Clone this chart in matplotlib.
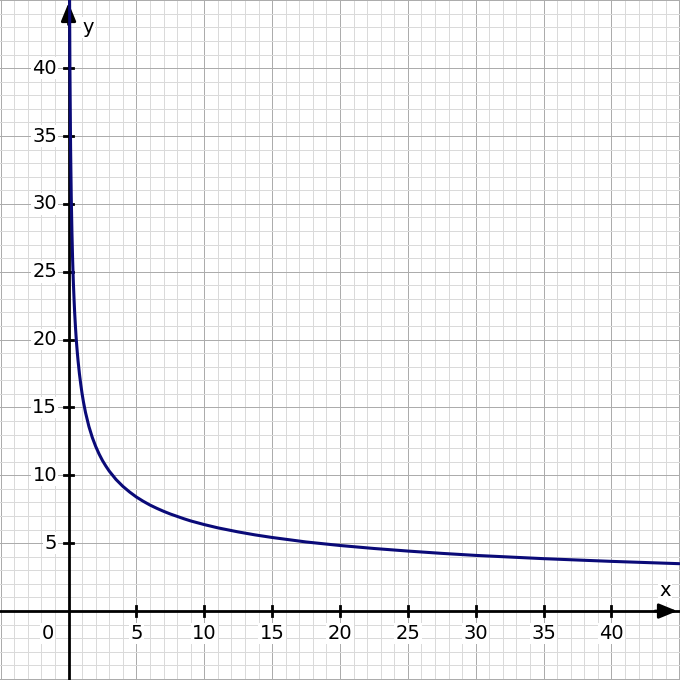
import numpy as np
import matplotlib

matplotlib.use("Agg")
import matplotlib.pyplot as plt
from matplotlib.ticker import MultipleLocator

# Puntos
x_curve = [0.07, 0.1, 0.15, 0.2, 0.25, 0.3, 0.35, 0.4, 0.45, 0.5, 0.55, 0.6,
           0.65, 0.7, 0.8, 0.9, 1.0, 1.1, 1.25, 1.5, 1.75, 2.0, 2.25, 2.5,
           2.75, 3.0, 3.5, 4.0, 4.5, 5.0, 5.5, 6.0, 6.5, 7.0, 7.5, 8.5, 9.0,
           10, 11, 12.5, 13.75, 15, 17.5, 20, 22.5, 25, 27.5, 30, 35, 40, 45]
y_curve = [46.4, 40.2, 34.2, 30.5, 27.9, 25.9, 24.35, 23.1, 22.0, 21.1, 20.3,
           19.6, 19.0, 18.45, 17.5, 16.7, 16.0, 15.4, 14.63, 13.6, 12.79,
           12.13, 11.57, 11.09, 10.68, 10.31, 9.69, 9.19, 8.77, 8.40, 8.09,
           7.81, 7.57, 7.35, 7.15, 6.80, 6.64, 6.37, 6.13, 5.83, 5.61, 5.42,
           5.09, 4.83, 4.61, 4.42, 4.25, 4.10, 3.86, 3.66, 3.49]

tick_vals = [5, 10, 15, 20, 25, 30, 35, 40]

fig = plt.figure(figsize=(6.8, 6.8), dpi=100)
ax = fig.add_axes([0, 0, 1, 1])
ax.set_xlim(-5.05, 45.05)
ax.set_ylim(-5.08, 45.02)

# cuadrícula tipo papel milimetrado
ax.xaxis.set_major_locator(MultipleLocator(5))
ax.yaxis.set_major_locator(MultipleLocator(5))
ax.xaxis.set_minor_locator(MultipleLocator(1))
ax.yaxis.set_minor_locator(MultipleLocator(1))
ax.grid(which="minor", color="#dadada", lw=0.72)
ax.grid(which="major", color="#acacac", lw=0.72)
ax.tick_params(which="both", length=0, labelbottom=False, labelleft=False)
for s in ax.spines.values():
    s.set_visible(False)

# ejes
ax.axhline(0, color="black", lw=2, zorder=3)
ax.axvline(0, color="black", lw=2, zorder=3)
ax.annotate("", xy=(45.05, 0), xytext=(43.0, 0),
            arrowprops=dict(arrowstyle="-|>,head_length=1.1,head_width=0.45",
                            color="black", lw=2), zorder=4)
ax.annotate("", xy=(0, 45.02), xytext=(0, 43.0),
            arrowprops=dict(arrowstyle="-|>,head_length=1.1,head_width=0.45",
                            color="black", lw=2), zorder=4)

box = dict(facecolor="white", edgecolor="none", pad=1.0)
fs = 14
for v in tick_vals:
    ax.plot([v, v], [-0.35, 0.35], color="black", lw=2, zorder=3)
    ax.plot([-0.35, 0.35], [v, v], color="black", lw=2, zorder=3)
    ax.text(v, -1.65, str(v), ha="center", va="center", fontsize=fs, bbox=box)
    ax.text(-0.85, v, str(v), ha="right", va="center", fontsize=fs, bbox=box)
ax.text(-1.1, -1.65, "0", ha="right", va="center", fontsize=fs, bbox=box)
ax.text(43.95, 1.5, "x", ha="center", va="center", fontsize=fs, bbox=box)
ax.text(1.45, 43.0, "y", ha="center", va="center", fontsize=fs, bbox=box)

ax.plot(x_curve, y_curve, color="#0a0a78", lw=2.2, zorder=5,
        solid_capstyle="round", solid_joinstyle="round")

fig.savefig("out.png", dpi=100)
